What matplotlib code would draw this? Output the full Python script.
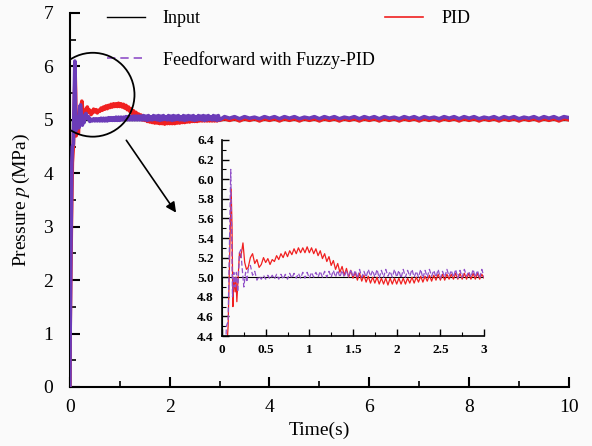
import numpy as np
import matplotlib.pyplot as plt
from matplotlib.patches import Ellipse
from matplotlib.lines import Line2D

plt.rcParams['font.family'] = ['Liberation Serif', 'DejaVu Serif']
plt.rcParams['mathtext.fontset'] = 'stix'

# Input step
t_input = [0.0, 0.0, 10.0]
p_input = [0.0, 5.0, 5.0]

# PID response: start-up transient (irregular samples)
t_pid_start = [0.0, 0.005, 0.03, 0.05, 0.07, 0.09, 0.105, 0.115, 0.125, 0.135,
               0.15, 0.16, 0.17, 0.185, 0.2, 0.215, 0.24, 0.26, 0.28]
p_pid_start = [0.0, 1.0, 3.0, 4.2, 4.5, 5.3, 5.9, 5.5, 4.7, 5.0,
               4.85, 5.0, 4.75, 5.0, 5.25, 5.2, 5.35, 5.15, 5.08]
# PID response 0.3 .. 3.0 s, every 0.025 s
p_pid_mid = [5.10, 5.20, 5.24, 5.14, 5.18, 5.10, 5.13, 5.20, 5.15, 5.19,
             5.13, 5.18, 5.16, 5.22, 5.18, 5.24, 5.20, 5.26, 5.21, 5.27,
             5.23, 5.29, 5.24, 5.30, 5.25, 5.30, 5.25, 5.31, 5.25, 5.30,
             5.24, 5.29, 5.22, 5.27, 5.19, 5.24, 5.16, 5.21, 5.12, 5.17,
             5.08, 5.14, 5.05, 5.11, 5.02, 5.09, 5.00, 5.07, 4.99, 5.05,
             4.97, 5.04, 4.96, 5.02, 4.95, 5.01, 4.94, 5.00, 4.94, 5.00,
             4.93, 4.99, 4.93, 4.99, 4.92, 4.99, 4.93, 4.99, 4.93, 4.99,
             4.93, 4.99, 4.93, 4.99, 4.94, 5.00, 4.94, 5.00, 4.95, 5.01,
             4.95, 5.01, 4.96, 5.02, 4.96, 5.02, 4.97, 5.03, 4.97, 5.03,
             4.97, 5.03, 4.98, 5.03, 4.98, 5.04, 4.98, 5.04, 4.98, 5.04,
             4.98, 5.04, 4.98, 5.04, 4.98, 5.04, 4.98, 5.03, 4.99]
# PID response 3.1 .. 10.0 s, every 0.1 s
p_pid_tail = [5.02, 4.99, 5.02, 4.98, 5.02, 4.99, 5.02, 4.98, 5.02, 4.99,
              5.02, 4.98, 5.02, 4.99, 5.02, 4.98, 5.02, 4.99, 5.02, 4.98,
              5.02, 4.99, 5.02, 4.98, 5.02, 4.99, 5.02, 4.98, 5.02, 4.99,
              5.02, 4.98, 5.02, 4.99, 5.02, 4.98, 5.02, 4.99, 5.02, 4.98,
              5.02, 4.99, 5.02, 4.98, 5.02, 4.99, 5.02, 4.98, 5.02, 4.99,
              5.02, 4.98, 5.02, 4.99, 5.02, 4.98, 5.02, 4.99, 5.02, 4.98,
              5.02, 4.99, 5.02, 4.98, 5.02, 4.99, 5.02, 4.98, 5.02, 5.00]

# Feedforward with Fuzzy-PID: start-up transient
t_ff_start = [0.0, 0.005, 0.02, 0.04, 0.05, 0.07, 0.085, 0.1, 0.11, 0.12,
              0.135, 0.15, 0.165, 0.18, 0.2, 0.215, 0.23, 0.25, 0.27, 0.285]
p_ff_start = [0.0, 0.9, 2.5, 4.2, 4.5, 4.55, 5.3, 6.1, 5.5, 4.8,
              5.05, 4.9, 5.05, 4.85, 5.25, 5.28, 5.1, 4.9, 5.05, 4.95]
# 0.3 .. 3.0 s, every 0.025 s
p_ff_mid = [5.08, 5.12, 5.02, 5.06, 4.97, 5.01, 4.98, 5.02, 4.98, 5.02,
            4.98, 5.02, 4.98, 5.03, 4.98, 5.03, 4.98, 5.03, 4.98, 5.04,
            4.99, 5.04, 4.99, 5.04, 4.99, 5.05, 4.99, 5.05, 4.99, 5.05,
            5.00, 5.05, 5.00, 5.06, 5.00, 5.06, 5.00, 5.06, 5.00, 5.07,
            5.00, 5.07, 5.00, 5.07, 5.00, 5.07, 5.00, 5.08, 5.00, 5.07,
            4.99, 5.08, 5.00, 5.06, 5.00, 5.08, 5.01, 5.07, 5.00, 5.08,
            4.99, 5.07, 5.00, 5.08, 5.01, 5.06, 5.00, 5.08, 5.00, 5.07,
            4.99, 5.08, 5.00, 5.07, 5.01, 5.08, 5.00, 5.06, 5.00, 5.08,
            4.99, 5.07, 5.00, 5.08, 5.01, 5.07, 5.00, 5.08, 4.99, 5.06,
            5.00, 5.08, 5.01, 5.07, 5.00, 5.08, 4.99, 5.07, 5.00, 5.08,
            5.01, 5.06, 5.00, 5.08, 5.00, 5.07, 4.99, 5.08, 5.00]
# 3.1 .. 10.0 s, every 0.1 s
p_ff_tail = [5.06, 5.03, 5.06, 5.02, 5.06, 5.03, 5.05, 5.02, 5.06, 5.03,
             5.06, 5.02, 5.06, 5.03, 5.06, 5.02, 5.05, 5.03, 5.06, 5.02,
             5.06, 5.03, 5.06, 5.02, 5.05, 5.03, 5.06, 5.02, 5.06, 5.03,
             5.06, 5.02, 5.06, 5.03, 5.05, 5.02, 5.06, 5.03, 5.06, 5.02,
             5.06, 5.03, 5.05, 5.02, 5.06, 5.03, 5.06, 5.02, 5.06, 5.03,
             5.06, 5.02, 5.05, 5.03, 5.06, 5.02, 5.06, 5.03, 5.06, 5.02,
             5.05, 5.03, 5.06, 5.02, 5.06, 5.03, 5.06, 5.02, 5.06, 5.04]

t_mid = np.linspace(0.3, 3.0, len(p_pid_mid))
t_tail = np.linspace(3.1, 10.0, len(p_pid_tail))

t_pid = np.concatenate([t_pid_start, t_mid, t_tail])
p_pid = np.concatenate([p_pid_start, p_pid_mid, p_pid_tail])
t_ff = np.concatenate([t_ff_start, t_mid, t_tail])
p_ff = np.concatenate([p_ff_start, p_ff_mid, p_ff_tail])

red = '#f02020'
purple = '#6b3cb8'
purple_light = '#9050c8'
bg = '#fafafa'

fig = plt.figure(figsize=(5.92, 4.46), dpi=100, facecolor=bg)
ax = fig.add_axes([0.118, 0.1323, 0.843, 0.8386])
ax.set_facecolor(bg)

ax.plot(t_input, p_input, color='black', lw=1.0, zorder=2)
ax.plot(t_pid, p_pid, color=red, lw=2.6, zorder=3)
ax.plot(t_ff, p_ff, color=purple, lw=2.6, zorder=4)

ax.set_xlim(0, 10)
ax.set_ylim(0, 7)
ax.set_xticks(np.arange(0, 11, 2))
ax.set_xticks(np.arange(1, 10, 2), minor=True)
ax.set_yticks(np.arange(0, 8, 1))
ax.set_yticks(np.arange(0.5, 7, 1), minor=True)
for s in ['top', 'right']:
    ax.spines[s].set_visible(False)
for s in ['left', 'bottom']:
    ax.spines[s].set_linewidth(1.5)
ax.tick_params(which='major', direction='in', length=7, width=1.5, labelsize=14)
ax.tick_params(which='minor', direction='in', length=4, width=1.2)
ax.tick_params(axis='y', which='major', pad=12)
ax.tick_params(axis='x', which='major', pad=9)

ax.set_xlabel('Time(s)', fontsize=14, labelpad=4)
ax.set_ylabel('Pressure $p\\,$(MPa)', fontsize=14)
ax.yaxis.set_label_coords(-0.076, 0.5)

# zoom circle and arrow
ax.add_patch(Ellipse((0.46, 5.47), 1.67, 1.57, fill=False, edgecolor='black', lw=1.3, zorder=6))
ax.annotate('', xy=(2.16, 3.22), xytext=(1.1, 4.66),
            arrowprops=dict(arrowstyle='-|>', color='black', lw=1.2, mutation_scale=15))

handles = [Line2D([], [], color='black', lw=1.0),
           Line2D([], [], color=purple_light, lw=1.2, ls=(0, (5, 3))),
           Line2D([], [], color=red, lw=1.2)]
labels = ['Input', 'Feedforward with Fuzzy-PID', 'PID']
ax.legend(handles, labels, ncol=2, loc='upper left', bbox_to_anchor=(0.074, 1.007),
          frameon=False, fontsize=13, handlelength=2.1, handletextpad=1.0,
          columnspacing=0.6, labelspacing=1.3, borderpad=0, borderaxespad=0)

# inset
ins = fig.add_axes([0.375, 0.2466, 0.4426, 0.4395])
ins.patch.set_alpha(0)
ins.plot(t_input, p_input, color='black', lw=0.8)
ins.plot(t_pid, p_pid, color=red, lw=0.9)
ins.plot(t_ff, p_ff, color=purple_light, lw=0.9, ls=(0, (4, 2)))
ins.set_xlim(0, 3)
ins.set_ylim(4.4, 6.4)
ins.set_xticks([0, 0.5, 1, 1.5, 2, 2.5, 3])
ins.set_xticklabels(['0', '0.5', '1', '1.5', '2', '2.5', '3'])
ins.set_xticks(np.arange(0.25, 3, 0.5), minor=True)
ins.set_yticks(np.arange(4.4, 6.41, 0.2))
ins.set_yticklabels(['%.1f' % v for v in np.arange(4.4, 6.41, 0.2)])
ins.set_yticks(np.arange(4.5, 6.4, 0.2), minor=True)
for s in ['top', 'right']:
    ins.spines[s].set_visible(False)
for s in ['left', 'bottom']:
    ins.spines[s].set_linewidth(1.2)
ins.tick_params(which='major', direction='in', length=5, width=1.0, labelsize=9.5)
ins.tick_params(which='minor', direction='in', length=3, width=0.8)
ins.tick_params(axis='y', pad=6)
ins.tick_params(axis='x', pad=6)
for lab in ins.get_xticklabels() + ins.get_yticklabels():
    lab.set_fontweight('bold')

fig.savefig('out.png', dpi=100, facecolor=bg)
